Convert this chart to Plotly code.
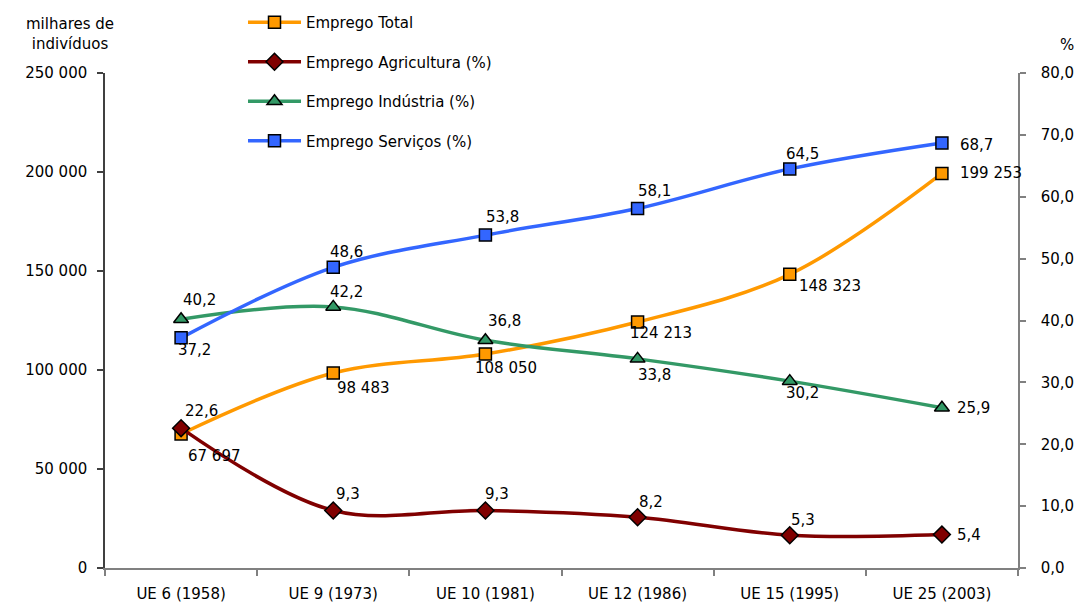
import plotly.graph_objects as go

# Categories (enlargements of the EU) and series
categories = ["UE 6 (1958)", "UE 9 (1973)", "UE 10 (1981)", "UE 12 (1986)", "UE 15 (1995)", "UE 25 (2003)"]
emprego_total = [67697, 98483, 108050, 124213, 148323, 199253]       # thousands of persons
emprego_agricultura = [22.6, 9.3, 9.3, 8.2, 5.3, 5.4]                 # %
emprego_industria = [40.2, 42.2, 36.8, 33.8, 30.2, 25.9]              # %
emprego_servicos = [37.2, 48.6, 53.8, 58.1, 64.5, 68.7]               # %

left_ticks = [0, 50000, 100000, 150000, 200000, 250000]
right_ticks = [0, 10, 20, 30, 40, 50, 60, 70, 80]

FONT = "DejaVu Sans, Arial, sans-serif"
FS = 15


def fmt_thousands(v):
    return f"{v:,}".replace(",", " ")


def fmt_pct(v):
    return f"{v:.1f}".replace(".", ",")


# label offsets (px) relative to each marker: (dx, dy) with dy pointing down
off_total = [(33, 22), (30, 15), (21, 14), (23, 11), (40, 12), (49, 0)]
off_agri = [(20, -17), (15, -16), (12, -16), (13, -15), (13, -15), (27, 0)]
off_ind = [(18, -19), (13, -15), (19, -19), (17, 16), (13, 12), (32, 0)]
off_serv = [(13, 12), (13, -15), (17, -18), (17, -18), (13, -15), (35, 2)]

series = [
    dict(name="Emprego Total", values=emprego_total, axis="y", color="#FF9900",
         symbol="square", size=12, fmt=fmt_thousands, offs=off_total),
    dict(name="Emprego Agricultura (%)", values=emprego_agricultura, axis="y2", color="#800000",
         symbol="diamond", size=13, fmt=fmt_pct, offs=off_agri),
    dict(name="Emprego Indústria (%)", values=emprego_industria, axis="y2", color="#339966",
         symbol="triangle-up", size=13, fmt=fmt_pct, offs=off_ind),
    dict(name="Emprego Serviços (%)", values=emprego_servicos, axis="y2", color="#3366FF",
         symbol="square", size=12, fmt=fmt_pct, offs=off_serv),
]

fig = go.Figure()
annotations = []

for i, s in enumerate(series):
    fig.add_trace(go.Scatter(
        x=categories, y=s["values"], name=s["name"], yaxis=s["axis"],
        mode="lines+markers", legendgroup=f"g{i}",
        line=dict(color=s["color"], width=3.5, shape="spline", smoothing=1.0),
        marker=dict(symbol=s["symbol"], size=s["size"], color=s["color"],
                    line=dict(color="#000000", width=1.5)),
        hoverinfo="skip",
    ))
    for cat, v, (dx, dy) in zip(categories, s["values"], s["offs"]):
        annotations.append(dict(
            x=cat, y=v, xref="x", yref=s["axis"], text=s["fmt"](v),
            showarrow=False, xanchor="center", yanchor="middle",
            xshift=dx, yshift=-dy, font=dict(family=FONT, size=FS, color="#000000"),
        ))

# plot-area geometry in pixels
L, R, T, B = 105, 59, 73, 38
W, H = 1077, 606
pw, ph = W - L - R, H - T - B


def px_x(x):
    return (x - L) / pw


def px_y(y):
    return (H - B - y) / ph


annotations.append(dict(
    x=px_x(70), y=px_y(34), xref="paper", yref="paper", text="milhares de<br>indivíduos",
    xanchor="center", yanchor="middle", showarrow=False,
    font=dict(family=FONT, size=FS, color="#000000"),
))
annotations.append(dict(
    x=px_x(1067), y=px_y(45), xref="paper", yref="paper", text="%",
    xanchor="center", yanchor="middle", showarrow=False,
    font=dict(family=FONT, size=FS, color="#000000"),
))

fig.update_layout(
    width=W, height=H,
    margin=dict(l=L, r=R, t=T, b=B, pad=0, autoexpand=False),
    paper_bgcolor="#FFFFFF", plot_bgcolor="#FFFFFF",
    font=dict(family=FONT, size=FS, color="#000000"),
    separators=", ",
    showlegend=True,
    legend=dict(
        x=px_x(243), y=px_y(6), xanchor="left", yanchor="top",
        tracegroupgap=17, itemwidth=53, bgcolor="rgba(0,0,0,0)", itemclick=False,
        font=dict(family=FONT, size=FS, color="#000000"),
    ),
    annotations=annotations,
    xaxis=dict(
        type="category", range=[-0.5, 5.5], tickson="boundaries",
        showline=True, linecolor="#808080", linewidth=1.5,
        ticks="outside", ticklen=6, tickcolor="#808080", tickwidth=1.5,
        ticklabelstandoff=11, automargin=False,
        showgrid=False, zeroline=False, tickfont=dict(size=FS),
    ),
    yaxis=dict(
        range=[0, 250000], tickvals=left_ticks, tickformat=",d",
        showline=True, linecolor="#404040", linewidth=1.5,
        ticks="outside", ticklen=6, tickcolor="#404040", tickwidth=1.5,
        ticklabelstandoff=7, automargin=False,
        showgrid=False, zeroline=False, tickfont=dict(size=FS),
    ),
    yaxis2=dict(
        range=[0, 80], tickvals=right_ticks, tickformat=".1f",
        overlaying="y", side="right", anchor="x",
        showline=True, linecolor="#808080", linewidth=1.5,
        ticks="outside", ticklen=6, tickcolor="#808080", tickwidth=1.5,
        ticklabelstandoff=12, automargin=False,
        showgrid=False, zeroline=False, tickfont=dict(size=FS),
    ),
)

fig.write_html("out.html")
